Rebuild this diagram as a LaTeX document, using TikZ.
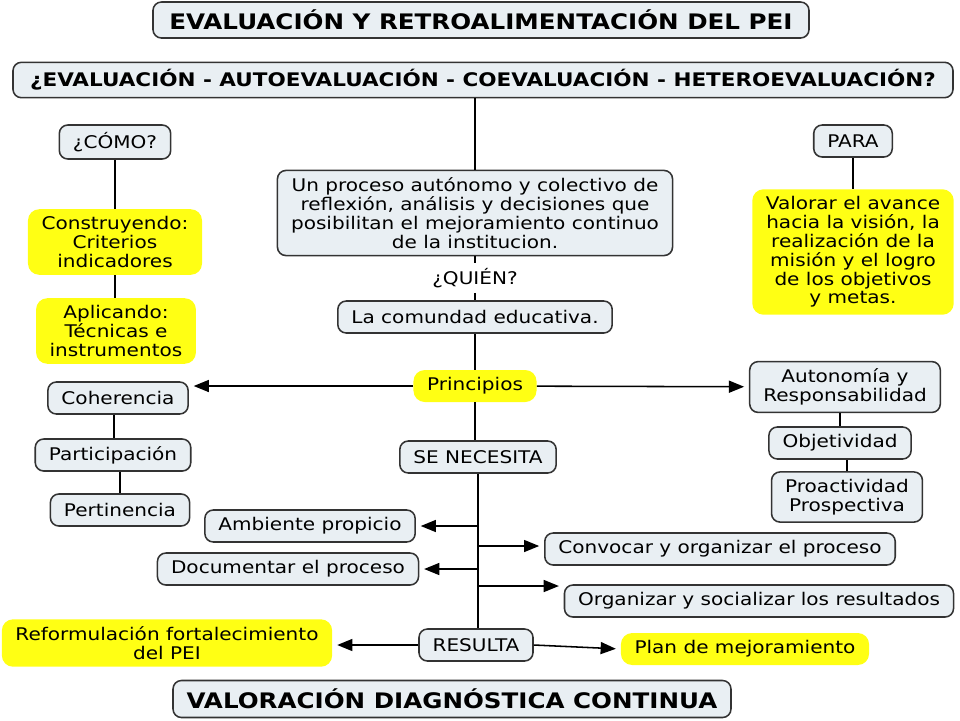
\documentclass[tikz,border=0pt]{standalone}
\usepackage{fontspec}
\setmainfont{DejaVu Sans}[FakeStretch=1.15]
\usepackage{tikz}
\usetikzlibrary{arrows.meta, positioning}
\definecolor{boxfill}{HTML}{E9EFF3}
\definecolor{boxline}{HTML}{333333}
\definecolor{mapyellow}{HTML}{FFFF14}

\begin{document}
\begin{tikzpicture}[
    x=0.25mm, y=-0.25mm,
    every node/.style={font=\fontsize{12.4}{13.4}\selectfont},
    conceptbox/.style={rectangle, draw=boxline, fill=boxfill, line width=1.1pt,
                       rounded corners=6pt, align=center, inner xsep=3.4mm,
                       inner ysep=1.8mm, minimum height=0.8cm},
    yellowbox/.style={rectangle, fill=mapyellow, rounded corners=8pt, align=center,
                      inner xsep=3.4mm, inner ysep=1.8mm, minimum height=0.8cm},
    titlebox/.style={conceptbox, font=\fontsize{15.2}{17}\selectfont\bfseries},
    link/.style={line width=1.1pt},
    arrow/.style={-{Triangle[length=3.8mm, width=3mm]}, line width=1.1pt, shorten >=1.2mm}
]
\useasboundingbox (0,0) rectangle (960,720);

% Titles
\node[titlebox, minimum width=16.4cm, minimum height=0.9cm] at (481,20) (titulo)
    {EVALUACIÓN Y RETROALIMENTACIÓN DEL PEI};
\node[titlebox, font=\fontsize{13.3}{15}\selectfont\bfseries, minimum width=23.5cm,
      minimum height=0.875cm] at (483,80) (pregunta)
    {¿EVALUACIÓN - AUTOEVALUACIÓN - COEVALUACIÓN - HETEROEVALUACIÓN?};

% Left column
\node[conceptbox] at (115,142) (como) {¿CÓMO?};
\node[yellowbox] at (115,242) (construyendo) {Construyendo:\\Criterios\\indicadores};
\node[yellowbox] at (116,331) (aplicando) {Aplicando:\\Técnicas e\\instrumentos};
\node[conceptbox] at (118,398) (coherencia) {Coherencia};
\node[conceptbox] at (113,455) (participacion) {Participación};
\node[conceptbox] at (120,510) (pertinencia) {Pertinencia};

% Center column
\node[conceptbox] at (475,213) (proceso)
    {Un proceso autónomo y colectivo de\\reflexión, análisis y decisiones que\\posibilitan el mejoramiento continuo\\de la institucion.};
\node at (475,278) (quien) {¿QUIÉN?};
\node[conceptbox] at (475,317) (comunidad) {La comundad educativa.};
\node[yellowbox] at (475,386) (principios) {Principios};
\node[conceptbox] at (478,457) (necesita) {SE NECESITA};
\node[conceptbox] at (476,645) (resulta) {RESULTA};

% Right column
\node[conceptbox] at (853,141) (para) {PARA};
\node[yellowbox] at (853,252) (valorar)
    {Valorar el avance\\hacia la visión, la\\realización de la\\misión y el logro\\de los objetivos\\y metas.};
\node[conceptbox] at (845,387) (autonomia) {Autonomía y\\Responsabilidad};
\node[conceptbox] at (840,443) (objetividad) {Objetividad};
\node[conceptbox] at (847,497) (proactividad) {Proactividad\\Prospectiva};

% Needs
\node[conceptbox] at (310,526) (ambiente) {Ambiente propicio};
\node[conceptbox] at (288,569) (documentar) {Documentar el proceso};
\node[conceptbox] at (720,549) (convocar) {Convocar y organizar el proceso};
\node[conceptbox] at (759,601) (organizar) {Organizar y socializar los resultados};

% Results
\node[yellowbox] at (167,643) (reformulacion) {Reformulación fortalecimiento\\del PEI};
\node[yellowbox] at (745,649) (plan) {Plan de mejoramiento};
\node[titlebox, minimum width=13.9cm, minimum height=0.925cm] at (452,699) (valoracion)
    {VALORACIÓN DIAGNÓSTICA CONTINUA};

% Lines
\draw[link] (pregunta.south -| proceso.north) -- (proceso.north);
\draw[link] (proceso) -- (quien);
\draw[link] (quien) -- (comunidad);
\draw[link] (comunidad) -- (principios);
\draw[link] (principios) -- (principios |- necesita.north);
\draw[link] (necesita) -- (necesita |- resulta.north);

\draw[link] (como) -- (como |- construyendo.north);
\draw[link] (construyendo) -- (construyendo |- aplicando.north);
\draw[link] (coherencia.south -| 114,0) -- (participacion.north -| 114,0);
\draw[link] (participacion.south -| 120,0) -- (pertinencia.north -| 120,0);

\draw[link] (para) -- (valorar);
\draw[link] (autonomia.south -| objetividad) -- (objetividad.north);
\draw[link] (objetividad.south -| proactividad) -- (proactividad.north);

% Arrows
\draw[arrow] (principios.west) -- (principios.west -| coherencia.east);
\draw[arrow] (principios) -- (autonomia);

\coordinate (rama-a) at (necesita.south |- ambiente);
\coordinate (rama-c) at (478,546);
\coordinate (rama-d) at (necesita.south |- documentar);
\coordinate (rama-o) at (478,586);
\draw[arrow] (rama-a) -- (ambiente.east);
\draw[arrow] (rama-c) -- (rama-c -| convocar.west);
\draw[arrow] (rama-d) -- (documentar.east);
\draw[arrow] (rama-o) -- (rama-o -| organizar.west);

\draw[arrow] (resulta.west) -- (resulta.west -| reformulacion.east);
\draw[arrow] (resulta.east) -- (plan.west);

\end{tikzpicture}
\end{document}
